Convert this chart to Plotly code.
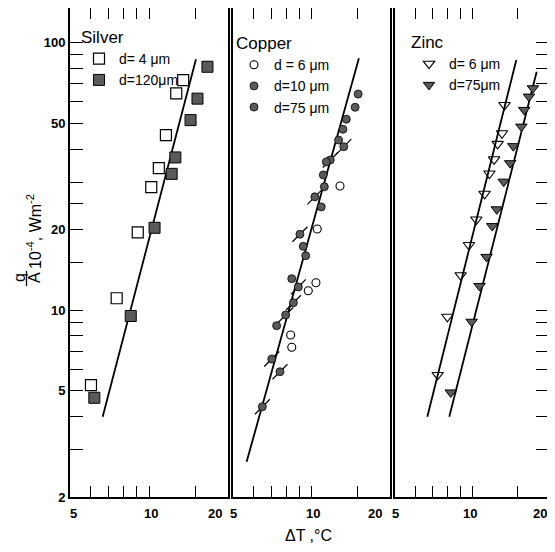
import plotly.graph_objects as go
import numpy as np

# ---------------- data ----------------
silver_d4_dT = [13.5, 12.7, 11.6, 10.9, 10.2, 9.06, 7.53, 6.01]
silver_d4_q = [72.4, 64.6, 45.1, 33.9, 28.8, 19.5, 11.07, 5.24]
silver_d120_dT = [16.7, 15.3, 14.4, 12.6, 12.2, 10.5, 8.52, 6.19]
silver_d120_q = [81.2, 61.7, 51.3, 37.2, 32.3, 20.3, 9.50, 4.70]
silver_fit_dT = [6.66, 15.1]
silver_fit_q = [3.99, 86.6]

copper_d6_dT = [12.86, 10.52, 10.40, 9.72, 8.32, 8.40]
copper_d6_q = [29.1, 20.1, 12.65, 11.81, 8.07, 7.26]
copper_d10_dT = [13.3, 11.8, 10.3, 9.03, 8.90, 8.52, 7.96, 7.04, 7.57, 6.48]
copper_d10_q = [40.8, 36.4, 26.5, 19.2, 12.2, 10.65, 9.58, 6.56, 5.88, 4.35]
copper_d75_dT = [15.1, 14.7, 13.6, 13.2, 12.7, 11.4, 11.1, 11.2, 10.9, 9.30, 9.50, 8.40, 7.35]
copper_d75_q = [64.2, 57.3, 51.7, 47.4, 43.2, 35.8, 32.0, 28.9, 24.3, 17.3, 15.97, 13.1, 8.74]
copper_fit_dT = [5.64, 15.2]
copper_fit_q = [2.71, 87.3]

zinc_d6_dT = [13.4, 13.1, 12.6, 12.2, 11.7, 11.2, 10.4, 9.73, 9.03, 8.01, 7.34]
zinc_d6_q = [58.4, 45.8, 41.8, 36.6, 32.4, 27.2, 21.8, 17.5, 13.5, 9.44, 5.72]
zinc_d75_dT = [17.3, 16.7, 16.0, 15.6, 14.5, 14.1, 13.3, 12.5, 12.0, 11.4, 10.7, 9.97, 8.26]
zinc_d75_q = [67.5, 62.8, 56.0, 48.5, 41.0, 35.4, 30.2, 23.8, 20.6, 15.8, 12.3, 9.04, 4.92]
zinc_fit6_dT = [6.69, 14.9]
zinc_fit6_q = [3.99, 86.1]
zinc_fit75_dT = [8.15, 17.9]
zinc_fit75_q = [3.99, 77.8]

x_ticks = [5, 6, 7, 8, 9, 10, 15, 20]
x_label_vals = [5, 10, 20]
x_label_text = ["5", "10", "20"]
y_ticks = [2, 3, 4, 5, 6, 7, 8, 9, 10, 15, 20, 25, 30, 40, 50, 60, 70, 80, 90, 100]
y_labels = ["2", "", "", "5", "", "", "", "", "10", "", "20", "", "", "", "50", "", "", "", "", "100"]

FONT = "Liberation Sans, Arial, sans-serif"
FILL = "#5a5a5a"

fig = go.Figure()

# ---------------- Silver ----------------
fig.add_trace(go.Scatter(x=silver_fit_dT, y=silver_fit_q, mode="lines",
                         line=dict(color="black", width=1.8), showlegend=False,
                         xaxis="x", yaxis="y"))
fig.add_trace(go.Scatter(x=silver_d4_dT, y=silver_d4_q, mode="markers", name="d= 4 μm",
                         marker=dict(symbol="square-open", size=11, color="black", line=dict(width=1.2)),
                         xaxis="x", yaxis="y", legend="legend"))
fig.add_trace(go.Scatter(x=silver_d120_dT, y=silver_d120_q, mode="markers", name="d=120μm",
                         marker=dict(symbol="square", size=11, color=FILL, line=dict(color="black", width=1)),
                         xaxis="x", yaxis="y", legend="legend"))

# ---------------- Copper ----------------
fig.add_trace(go.Scatter(x=copper_fit_dT, y=copper_fit_q, mode="lines",
                         line=dict(color="black", width=1.8), showlegend=False,
                         xaxis="x2", yaxis="y2"))
fig.add_trace(go.Scatter(x=copper_d6_dT, y=copper_d6_q, mode="markers", name="d = 6 μm",
                         marker=dict(symbol="circle-open", size=8, color="black", line=dict(width=1.1)),
                         xaxis="x2", yaxis="y2", legend="legend2"))
fig.add_trace(go.Scatter(x=copper_d10_dT, y=copper_d10_q, mode="markers", showlegend=False,
                         marker=dict(symbol="line-ne", size=15, color="black", line=dict(color="black", width=1.2)),
                         xaxis="x2", yaxis="y2"))
fig.add_trace(go.Scatter(x=copper_d10_dT, y=copper_d10_q, mode="markers", name="d=10 μm",
                         marker=dict(symbol="circle", size=8, color=FILL, line=dict(color="black", width=0.8)),
                         xaxis="x2", yaxis="y2", legend="legend2"))
fig.add_trace(go.Scatter(x=copper_d75_dT, y=copper_d75_q, mode="markers", name="d=75 μm",
                         marker=dict(symbol="circle", size=8, color=FILL, line=dict(color="black", width=0.8)),
                         xaxis="x2", yaxis="y2", legend="legend2"))

# ---------------- Zinc ----------------
fig.add_trace(go.Scatter(x=zinc_fit6_dT, y=zinc_fit6_q, mode="lines",
                         line=dict(color="black", width=1.8), showlegend=False,
                         xaxis="x3", yaxis="y3"))
fig.add_trace(go.Scatter(x=zinc_fit75_dT, y=zinc_fit75_q, mode="lines",
                         line=dict(color="black", width=1.8), showlegend=False,
                         xaxis="x3", yaxis="y3"))
fig.add_trace(go.Scatter(x=zinc_d6_dT, y=zinc_d6_q, mode="markers", name="d= 6 μm",
                         marker=dict(symbol="triangle-down-open", size=10, color="black", line=dict(width=1.1)),
                         xaxis="x3", yaxis="y3", legend="legend3"))
fig.add_trace(go.Scatter(x=zinc_d75_dT, y=zinc_d75_q, mode="markers", name="d=75μm",
                         marker=dict(symbol="triangle-down", size=10, color=FILL, line=dict(color="black", width=1)),
                         xaxis="x3", yaxis="y3", legend="legend3"))

# page has an 8 px body margin; work in page pixels and convert
OFF = 8
W, H = 555 - OFF, 552 - OFF
ML, MR, MT, MB = 70 - OFF, 6, 0, 55
PW = W - ML - MR
PH = H - MT - MB


def px(xp):
    return (xp - OFF - ML) / PW


def py(yp):
    return 1 - (yp - OFF - MT) / PH


def dom(a, b):
    return [px(a), px(b)]


def xax(d):
    return dict(type="log", range=[np.log10(5), np.log10(20)], domain=d,
                tickmode="array", tickvals=x_ticks, showticklabels=False,
                ticks="inside", ticklen=11, tickwidth=1.2, tickcolor="black",
                showline=True, linecolor="black", linewidth=2, mirror="ticks",
                showgrid=False, zeroline=False, automargin=False)


yrange = [np.log10(2), 2.1292]


def yax(anchor, show_ticks, side="left", labels=False):
    d = dict(type="log", range=yrange, domain=[0, 1], anchor=anchor, side=side,
             showline=True, linecolor="black", linewidth=2, mirror=True,
             showgrid=False, zeroline=False, showticklabels=labels, automargin=False,
             tickfont=dict(family=FONT, size=13, color="black", weight="bold"))
    if show_ticks:
        d.update(tickmode="array", tickvals=y_ticks, ticktext=y_labels,
                 ticks="inside", ticklen=13, tickwidth=1.2, tickcolor="black")
    else:
        d.update(ticks="", tickvals=[])
    return d


leg_common = dict(bgcolor="rgba(0,0,0,0)", xanchor="left", yanchor="top",
                  font=dict(family=FONT, size=14, color="black"),
                  itemwidth=30, tracegroupgap=0)

fig.update_layout(
    width=W, height=H,
    margin=dict(l=ML, r=MR, t=MT, b=MB, autoexpand=False),
    paper_bgcolor="white", plot_bgcolor="white",
    font=dict(family=FONT, color="black"),
    xaxis=xax(dom(70, 228)),
    xaxis2=xax(dom(233, 390)),
    xaxis3=xax(dom(395, 549)),
    yaxis=yax("x", True, labels=True),
    yaxis2=yax("x2", False),
    yaxis3=yax("x3", True, side="right"),
    xaxis_anchor="y", xaxis2_anchor="y2", xaxis3_anchor="y3",
    legend=dict(x=px(79), y=py(21),
                title=dict(text="Silver", font=dict(family=FONT, size=17)), **leg_common),
    legend2=dict(x=px(234), y=py(27),
                 title=dict(text="Copper", font=dict(family=FONT, size=17)), **leg_common),
    legend3=dict(x=px(409), y=py(26),
                 title=dict(text="Zinc", font=dict(family=FONT, size=17)), **leg_common),
    showlegend=True,
)

# x tick labels (placed on each panel's own log axis; small pixel nudges as in the reference)
label_shift = {"x": [3, 2, -13], "x2": [0, 1, -15], "x3": [0, -2, -9]}
for ax, shifts in label_shift.items():
    for v, t, s in zip(x_label_vals, x_label_text, shifts):
        fig.add_annotation(text=t, xref=ax, yref="paper", x=np.log10(v), y=py(513),
                           xshift=s, showarrow=False, xanchor="center", yanchor="middle",
                           font=dict(family=FONT, size=13, color="black", weight="bold"))

# y-axis title: q over A as a fraction, then 10^-4, Wm^-2 (rotated)
yt_font = dict(family=FONT, size=16, color="black")
fig.add_annotation(text="q", xref="paper", yref="paper", x=px(19), y=py(278), textangle=-90,
                   showarrow=False, font=yt_font, xanchor="center", yanchor="middle")
fig.add_annotation(text="A", xref="paper", yref="paper", x=px(34), y=py(278), textangle=-90,
                   showarrow=False, font=yt_font, xanchor="center", yanchor="middle")
fig.add_shape(type="line", xref="paper", yref="paper", x0=px(26.5), x1=px(26.5),
              y0=py(271), y1=py(286), line=dict(color="black", width=1.3))
fig.add_annotation(text="10<sup>-4</sup>, Wm<sup>-2</sup>", xref="paper", yref="paper",
                   x=px(34), y=py(232), textangle=-90,
                   showarrow=False, font=yt_font, xanchor="center", yanchor="middle")

fig.add_annotation(text="ΔT ,°C", xref="paper", yref="paper",
                   x=px(308), y=py(535),
                   showarrow=False, font=dict(family=FONT, size=16, color="black"),
                   xanchor="center", yanchor="middle")

fig.write_html("out.html")
